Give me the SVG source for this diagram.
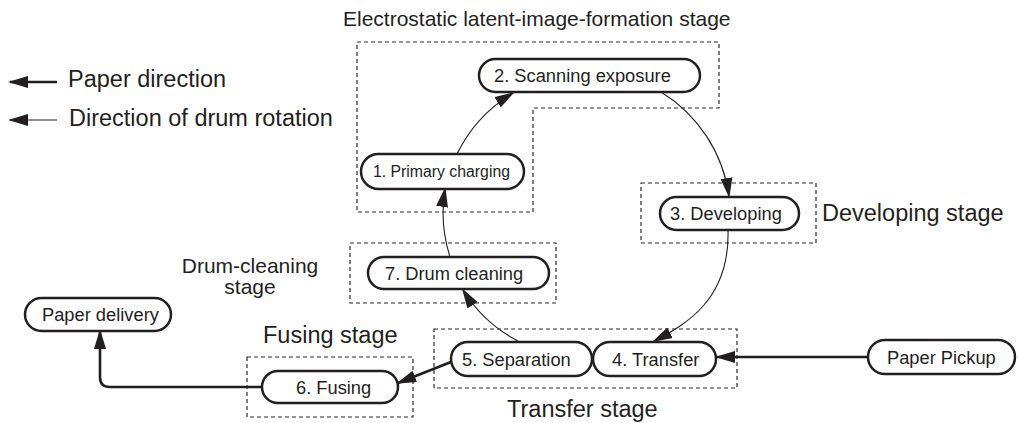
<svg xmlns="http://www.w3.org/2000/svg" width="1018" height="423" viewBox="0 0 1018 423">
<style>
text{font-family:"Liberation Sans",Arial,sans-serif;fill:#231f20}
.node rect{fill:#fff;stroke:#231f20;stroke-width:2.5}
.node text{font-size:18.3px}
.stage{fill:none;stroke:#2a2a2a;stroke-width:1.2;stroke-dasharray:4 3}
.big{font-size:23.5px}
.mid{font-size:21px}
.thin{fill:none;stroke:#231f20;stroke-width:1.1;marker-end:url(#ah)}
.thick{fill:none;stroke:#231f20;stroke-width:2.6;marker-end:url(#ah)}
</style>
<defs>
<marker id="ah" markerUnits="userSpaceOnUse" viewBox="0 0 21 13" markerWidth="21" markerHeight="13" refX="18" refY="6.5" orient="auto">
<path d="M0,0.5 L20,6.5 L0,12.5 Z" fill="#231f20"/>
</marker>
</defs>

<g id="stages">
<polygon class="stage" points="357,42 719,42 719,108 533,108 533,212 357,212"/>
<rect class="stage" x="641" y="183" width="175" height="60"/>
<rect class="stage" x="350" y="243" width="206" height="60"/>
<rect class="stage" x="434" y="329" width="303" height="59"/>
<rect class="stage" x="247" y="357" width="166" height="60"/>
</g>

<g id="labels">
<text class="mid" x="343" y="26">Electrostatic latent-image-formation stage</text>
<text class="big" x="68" y="87">Paper direction</text>
<text class="big" x="69" y="126">Direction of drum rotation</text>
<text class="big" x="822" y="221">Developing stage</text>
<text class="mid" x="250" y="273" text-anchor="middle">Drum-cleaning</text>
<text class="mid" x="250" y="294" text-anchor="middle">stage</text>
<text class="big" x="263" y="343">Fusing stage</text>
<text class="big" x="507" y="417">Transfer stage</text>
</g>

<g id="legend">
<line class="thick" x1="57" y1="82" x2="10" y2="82"/>
<line class="thin" x1="57" y1="120" x2="10" y2="120"/>
</g>

<g id="connectors">
<path class="thin" d="M457,154 A146,146 0 0,1 513,93"/>
<path class="thin" d="M661,92 A146,146 0 0,1 729,196"/>
<path class="thin" d="M728,230 C730,300 685,325 654,341"/>
<path class="thin" d="M518,341 A142,142 0 0,1 463,290"/>
<path class="thin" d="M450,257 A146,146 0 0,1 445,189"/>
<path class="thick" d="M868,357 L717,357"/>
<path class="thick" d="M451,362 L398,383"/>
<path class="thick" d="M262,387 L110,387 Q100,387 100,377 L100,331"/>
</g>

<g id="n2" class="node"><rect x="479" y="59" width="221" height="33" rx="16.5"/><text x="494" y="82">2. Scanning exposure</text></g>
<g id="n1" class="node"><rect x="361" y="154" width="163" height="35" rx="17.5"/><text x="373" y="177" style="font-size:15.8px">1. Primary charging</text></g>
<g id="n3" class="node"><rect x="660" y="197" width="139" height="33" rx="16.5"/><text x="670" y="220">3. Developing</text></g>
<g id="n7" class="node"><rect x="368" y="257" width="181" height="32" rx="16"/><text x="385" y="279.5">7. Drum cleaning</text></g>
<g id="n5" class="node"><rect x="451" y="342" width="141" height="34" rx="17"/><text x="462" y="365.5">5. Separation</text></g>
<g id="n4" class="node"><rect x="593" y="342" width="123" height="34" rx="17"/><text x="612" y="365.5">4. Transfer</text></g>
<g id="npickup" class="node"><rect x="868" y="340" width="147" height="34" rx="17"/><text x="887" y="363.5">Paper Pickup</text></g>
<g id="ndelivery" class="node"><rect x="25" y="298" width="146" height="33" rx="16.5"/><text x="42" y="321">Paper delivery</text></g>
<g id="n6" class="node"><rect x="262" y="371" width="136" height="32" rx="16"/><text x="296" y="393.5">6. Fusing</text></g>
</svg>
